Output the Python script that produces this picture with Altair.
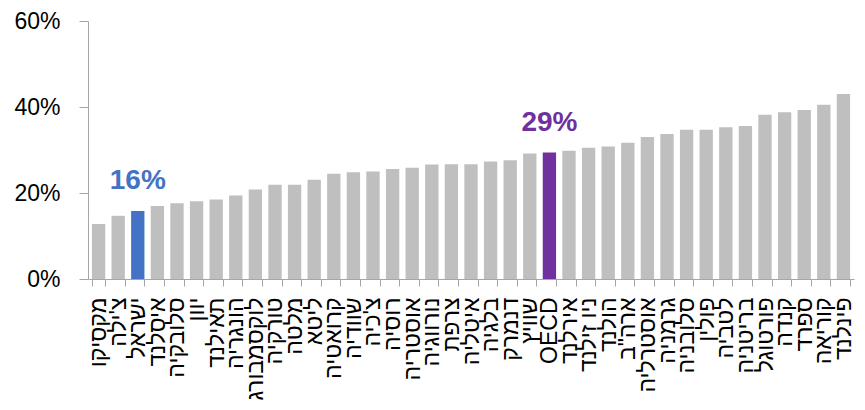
import altair as alt
import pandas as pd

countries = [
    "מקסיקו", "צ'ילה", "ישראל", "איסלנד", "סלובקיה", "יוון", "תאילנד",
    "הונגריה", "לוקסמבורג", "טורקיה", "מלטה", "ליטא", "קרואטיה", "שוודיה",
    "צ'כיה", "רוסיה", "אוסטריה", "נורווגיה", "צרפת", "איטליה", "בלגיה",
    "דנמרק", "שוויץ", "OECD", "אירלנד", "ניו זילנד", "הולנד", 'ארה"ב',
    "אוסטרליה", "גרמניה", "סלובניה", "פולין", "לטביה", "בריטניה",
    "פורטוגל", "קנדה", "ספרד", "קוריאה", "פינלנד",
]
values = [
    12.8, 14.7, 15.8, 17.0, 17.6, 18.1, 18.5,
    19.4, 20.8, 21.9, 21.9, 23.1, 24.5, 24.8,
    25.0, 25.6, 25.9, 26.6, 26.7, 26.7, 27.3,
    27.6, 29.2, 29.4, 29.8, 30.5, 30.8, 31.7,
    33.0, 33.7, 34.7, 34.7, 35.3, 35.6,
    38.2, 38.8, 39.3, 40.5, 43.0,
]
highlight_names = ["ישראל", "OECD"]
groups = ["other", "israel", "oecd"]
group_colors = ["#BFBFBF", "#4472C4", "#7030A0"]
y_ticks = [0, 20, 40, 60]

df = pd.DataFrame({"country": countries, "value": values})
df["group"] = [
    "israel" if c == highlight_names[0] else ("oecd" if c == highlight_names[1] else "other")
    for c in countries
]

axis_grey = "#A6A6A6"
font = "Liberation Sans"

x_enc = alt.X(
    "country:N",
    sort=countries,
    scale=alt.Scale(paddingInner=0.32, paddingOuter=0.2),
    axis=alt.Axis(
        title=None, labelAngle=270, labelFontSize=23, labelFont=font,
        labelColor="black", labelPadding=11, tickSize=7, tickBand="extent",
        domainColor=axis_grey, tickColor=axis_grey, labelOverlap=False,
        labelLimit=200,
    ),
)
y_enc = alt.Y(
    "value:Q",
    scale=alt.Scale(domain=[0, 60]),
    axis=alt.Axis(
        values=y_ticks, labelExpr="datum.value + '%'", title=None, grid=False,
        tickSize=9, labelPadding=19, labelFontSize=23, labelFont=font,
        labelColor="black", domainColor=axis_grey, tickColor=axis_grey,
    ),
)
color_enc = alt.Color(
    "group:N", scale=alt.Scale(domain=groups, range=group_colors), legend=None
)

bars = alt.Chart(df).mark_bar().encode(x=x_enc, y=y_enc, color=color_enc)

labels = (
    alt.Chart(df)
    .transform_filter("datum.group != 'other'")
    .transform_calculate(label="format(datum.value, '.0f') + '%'")
    .mark_text(fontSize=28, fontWeight="bold", baseline="bottom", dy=-16, font=font)
    .encode(x=alt.X("country:N", sort=countries), y="value:Q", text="label:N", color=color_enc)
)

chart = (
    alt.layer(bars, labels)
    .properties(
        width=766,
        height=258,
        autosize=alt.AutoSizeParams(type="none"),
        padding={"left": 80, "top": 13, "right": 3, "bottom": 123},
    )
    .configure_view(strokeWidth=0)
)

chart.save("out.html", embed_options={"renderer": "svg", "actions": False})
